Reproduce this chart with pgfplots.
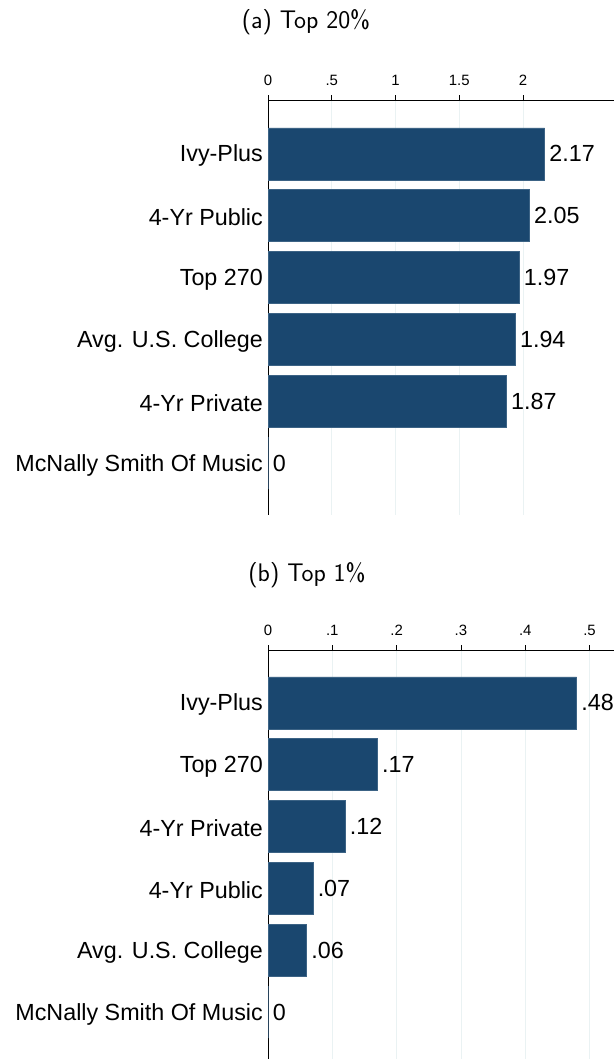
\documentclass[border=0pt]{standalone}
\usepackage{fontspec}
\setmainfont{Liberation Sans}
\usepackage{pgfplots}
\pgfplotsset{compat=1.18}
\definecolor{navy}{RGB}{26,71,111}
\definecolor{gridcol}{RGB}{234,242,243}

\pgfplotsset{
  collegebars/.style={
    xbar, scale only axis, width=346bp,
    axis x line=top, axis y line=left,
    axis line style={-, line width=0.8bp, black},
    y dir=reverse,
    ytick={0,...,5},
    ytick style={draw=none},
    tick align=outside,
    xtick style={black, line width=0.6bp},
    major tick length=5bp,
    xmajorgrids, grid style={gridcol, line width=0.8bp},
    xmin=0,
    bar width=52bp,
    xticklabel style={font=\fontsize{15}{18}\selectfont, yshift=6bp},
    yticklabel style={font=\fontsize{23.4}{28}\selectfont, inner sep=0bp, yshift=-2bp},
    nodes near coords, point meta=explicit symbolic,
    nodes near coords style={font=\fontsize{23.4}{28}\selectfont, inner sep=4.5bp, black, anchor=west},
    clip=false,
  }
}

\begin{document}
\begin{tikzpicture}
\node[font=\sffamily\fontsize{25.5}{30}\selectfont] at (306bp,-22bp) {(a) Top 20\%};
\node[font=\sffamily\fontsize{25.5}{30}\selectfont] at (307bp,-575bp) {(b) Top 1\%};

% (a) Top 20%
\begin{axis}[collegebars, at={(268bp,-100bp)}, anchor=north west,
  height=415bp, ymin=-0.87, ymax=5.84, xmax=2.714,
  xtick={0,0.5,1,1.5,2}, xticklabels={0,.5,1,1.5,2},
  yticklabels={Ivy-Plus,4-Yr Public,Top 270,Avg. U.S. College,4-Yr Private,McNally Smith Of Music}]
\addplot[fill=navy, draw=navy!85!white, line width=0.5bp] coordinates {
  (2.17,0) [2.17]
  (2.05,1) [2.05]
  (1.97,2) [1.97]
  (1.94,3) [1.94]
  (1.87,4) [1.87]
  (0,5) [0]
};
\end{axis}

% (b) Top 1%
\begin{axis}[collegebars, at={(268bp,-650bp)}, anchor=north west,
  height=409bp, ymin=-0.855, ymax=5.76, xmax=0.538,
  xtick={0,0.1,0.2,0.3,0.4,0.5}, xticklabels={0,.1,.2,.3,.4,.5},
  yticklabels={Ivy-Plus,Top 270,4-Yr Private,4-Yr Public,Avg. U.S. College,McNally Smith Of Music}]
\addplot[fill=navy, draw=navy!85!white, line width=0.5bp] coordinates {
  (0.48,0) [.48]
  (0.17,1) [.17]
  (0.12,2) [.12]
  (0.07,3) [.07]
  (0.06,4) [.06]
  (0,5) [0]
};
\end{axis}

\pgfresetboundingbox
\path[use as bounding box] (0,0) rectangle (614bp,-1059bp);
\end{tikzpicture}
\end{document}
